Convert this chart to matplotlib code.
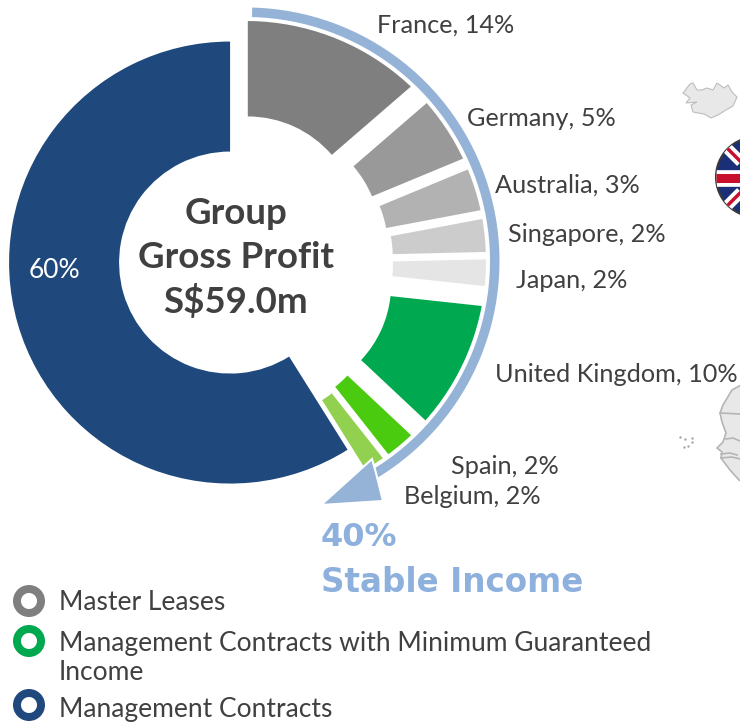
from matplotlib import pyplot
from matplotlib.patches import Circle, Polygon, Wedge

countries = [
    "France",
    "Germany",
    "Australia",
    "Singapore",
    "Japan",
    "United Kingdom",
    "Spain",
    "Belgium",
    "",
]
shown_percent = ["14%", "5%", "3%", "2%", "2%", "10%", "2%", "2%", "60%"]
shares = [13.7, 5.1, 3.3, 2.6, 2.1, 10.3, 2.4, 1.7, 59.1]
slice_colors = [
    "#7F7F7F",
    "#999999",
    "#B2B2B2",
    "#CCCCCC",
    "#E5E5E5",
    "#00A84F",
    "#4BCB10",
    "#92D050",
    "#1F497D",
]
legend_names = [
    "Master Leases",
    "Management Contracts with Minimum Guaranteed\nIncome",
    "Management Contracts",
]
legend_colors = ["#7F7F7F", "#00A84F", "#1F497D"]
center_title = ["Group", "Gross Profit", "S$59.0m"]

text_color = "#404040"
arrow_color = "#95B3D7"
font = "Lato"

fig = pyplot.figure(figsize=(7.4, 7.23), dpi=100)
ax = fig.add_axes([0, 0, 1, 1])

# the y axis runs downwards, so the pie goes clockwise with counterclock=True
# pie takes explode in data units here, so these are pixels
offsets = [38, 44, 47, 50, 50, 53, 51, 54, 2]
ax.pie(
    shares,
    explode=offsets,
    colors=slice_colors,
    radius=221,
    center=(232, 262),
    startangle=-90,
    counterclock=True,
    wedgeprops={"width": 110, "linewidth": 0},
)
ax.set_xlim(0, 740)
ax.set_ylim(723, 0)
ax.set_aspect("equal")
ax.axis("off")

# curved arrow, the white band under it cuts the slices
ax.add_patch(Wedge((246, 261), 295, -91, 61, width=55, color="white", lw=0))
ax.add_patch(Wedge((246, 261), 253.5, -88.6, 59, width=9.5, color=arrow_color, lw=0))
ax.add_patch(
    Polygon(
        [(321, 505), (372, 459), (376, 473), (383, 501)],
        closed=True,
        facecolor=arrow_color,
        edgecolor="white",
        linewidth=1.5,
        joinstyle="miter",
    )
)

# outline map in the background
iceland = [
    (683, 93), (690, 84), (693, 83), (697, 90), (702, 90), (707, 88),
    (713, 90), (717, 83), (724, 88), (728, 85), (732, 92), (737, 97),
    (733, 106), (726, 110), (718, 115), (711, 118), (704, 114), (693, 112),
    (691, 105), (697, 102), (686, 103), (690, 98),
]
ax.add_patch(Polygon(iceland, closed=True, facecolor="#E8E8E8", edgecolor="#BDBDBD", linewidth=0.8))
africa = [
    (741, 385), (732, 390), (723, 405), (720, 413), (722, 422), (726, 433),
    (723, 442), (717, 448), (722, 452), (721, 458), (730, 470), (739, 480),
    (741, 481),
]
ax.add_patch(Polygon(africa, closed=True, facecolor="#E8E8E8", edgecolor="#B5B5B5", linewidth=1.2))
for xs, ys in [
    ([720, 740], [413, 414]),
    ([726, 733, 740], [439, 438, 441]),
    ([721, 730, 737], [454, 453, 455]),
    ([721, 732, 740], [458, 457, 459]),
]:
    ax.plot(xs, ys, color="#B5B5B5", linewidth=1.2)
ax.scatter(
    [680, 685, 692, 692, 684, 688],
    [437, 439, 438, 442, 447, 446],
    s=3,
    color="#A6A6A6",
    linewidths=0,
)

# flag ball on the right edge
ball = Circle((756, 177), 40, facecolor="#1B2F78", edgecolor="#3A3A3A", linewidth=1.5)
ax.add_patch(ball)
for xs, ys, color, width in [
    ([716, 796], [137, 217], "white", 8),
    ([716, 796], [217, 137], "white", 8),
    ([716, 796], [137, 217], "#C8102E", 2.5),
    ([716, 796], [217, 137], "#C8102E", 2.5),
    ([716, 796], [178, 178], "white", 12),
    ([756, 756], [137, 217], "white", 12),
    ([716, 796], [178, 178], "#C8102E", 6.5),
    ([756, 756], [137, 217], "#C8102E", 6.5),
]:
    line, = ax.plot(xs, ys, color=color, linewidth=width, solid_capstyle="butt")
    line.set_clip_path(ball)

# labels
label_spots = [
    (377, 25),
    (467, 119),
    (495, 185),
    (508, 235),
    (516, 281),
    (495, 375),
    (451, 467),
    (404, 497),
]
for name, percent, spot in zip(countries, shown_percent, label_spots):
    ax.text(
        spot[0],
        spot[1],
        f"{name}, {percent}",
        fontsize=18.2,
        family=font,
        color=text_color,
        ha="left",
        va="center",
    )
ax.text(29, 271, shown_percent[-1], fontsize=19, family=font, color="white", ha="left", va="center")

for line_text, y in zip(center_title, [214, 257, 302]):
    ax.text(
        236,
        y,
        line_text,
        fontsize=26.4,
        family=font,
        fontweight="bold",
        color=text_color,
        ha="center",
        va="center",
    )

ax.text(321, 537, "40%", fontsize=23, family="DejaVu Sans", fontweight="bold", color="#8DB0DD", ha="left", va="center")
ax.text(321, 582, "Stable Income", fontsize=23.5, family="DejaVu Sans", fontweight="bold", color="#8DB0DD", ha="left", va="center")

# legend rings
for color, ring_y, text_y, name in zip(legend_colors, [601, 641, 705], [602, 658, 710], legend_names):
    ax.add_patch(Wedge((29, ring_y), 16, 0, 360, width=8, color=color, lw=0))
    ax.text(
        59,
        text_y,
        name,
        fontsize=19,
        family=font,
        color=text_color,
        ha="left",
        va="center",
        linespacing=1.25,
    )

fig.savefig("out.png", dpi=100)
